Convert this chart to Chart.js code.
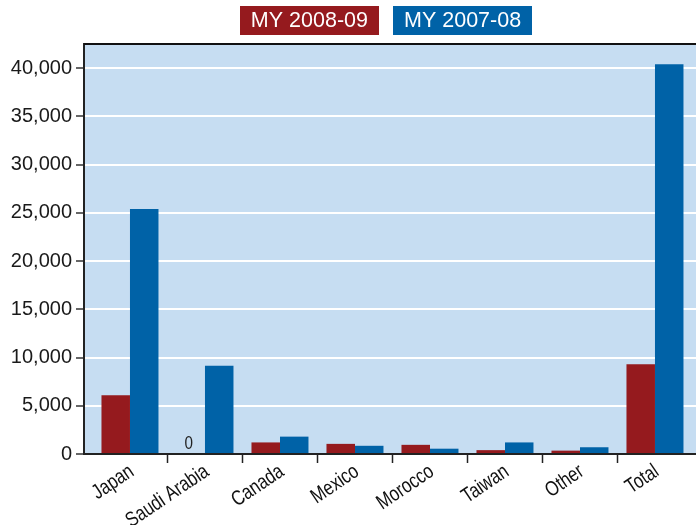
<!DOCTYPE html>
<html>
<head>
<meta charset="utf-8">
<script src="https://cdn.jsdelivr.net/npm/chart.js@4.4.1/dist/chart.umd.min.js"></script>
<style>
  html, body { margin: 0; padding: 0; background: #ffffff; }
  #wrap { width: 696px; height: 525px; position: relative; }
</style>
</head>
<body>
<div id="wrap"><canvas id="c" width="696" height="525"></canvas></div>
<script>
const categories = ['Japan', 'Saudi Arabia', 'Canada', 'Mexico', 'Morocco', 'Taiwan', 'Other', 'Total'];
const seriesLabels = ['MY 2008-09', 'MY 2007-08'];
const my200809 = [6100, 0, 1200, 1050, 950, 400, 350, 9300];
const my200708 = [25400, 9150, 1800, 850, 550, 1200, 700, 40400];
const yTickStep = 5000;
const yMax = 42500;

const RED = '#951a1e';
const BLUE = '#0062a7';
const PLOT_BG = '#c6ddf2';

const toPoints = arr => arr.map((v, i) => ({ x: i, y: v }));

const plotBg = {
  id: 'plotBg',
  beforeDraw(chart) {
    const { ctx, chartArea: a } = chart;
    ctx.save();
    ctx.fillStyle = PLOT_BG;
    ctx.fillRect(a.left, a.top, a.right - a.left, a.bottom - a.top);
    ctx.restore();
  },
  afterDraw(chart) {
    const { ctx, chartArea: a } = chart;
    ctx.save();
    // top frame line
    ctx.strokeStyle = '#111';
    ctx.lineWidth = 2;
    ctx.beginPath();
    ctx.moveTo(a.left, a.top);
    ctx.lineTo(a.right, a.top);
    ctx.stroke();

    // condensed category labels (rotated)
    const xs = chart.scales.x;
    const ang = 34 * Math.PI / 180;
    ctx.fillStyle = '#111';
    ctx.font = '21px "Liberation Sans", Arial, sans-serif';
    ctx.textAlign = 'right';
    ctx.textBaseline = 'top';
    categories.forEach((lab, i) => {
      const px = xs.getPixelForValue(i) - 4;
      const py = xs.top + 7;
      ctx.save();
      ctx.translate(px, py);
      ctx.rotate(-ang);
      ctx.scale(0.79, 1);
      ctx.fillText(lab, 0, 0);
      ctx.restore();
    });

    // zero-value label
    const meta = chart.getDatasetMeta(0);
    ctx.font = '19px "Liberation Sans", Arial, sans-serif';
    ctx.fillStyle = '#222';
    ctx.textAlign = 'center';
    ctx.textBaseline = 'bottom';
    chart.data.datasets[0].data.forEach((p, i) => {
      if (p.y === 0) {
        const el = meta.data[i];
        ctx.save();
        ctx.translate(el.x - 2, el.y - 1);
        ctx.scale(0.8, 1);
        ctx.fillText('0', 0, 0);
        ctx.restore();
      }
    });

    // legend
    ctx.font = '21.5px "Liberation Sans", Arial, sans-serif';
    const pad = 11, gap = 14, h = 29, top = 6;
    const items = chart.data.datasets.map(ds => ({ text: ds.label, color: ds.backgroundColor, w: ctx.measureText(ds.label).width + pad * 2 }));
    const total = items.reduce((s, it) => s + it.w, 0) + gap * (items.length - 1);
    let x = (a.left + a.right) / 2 - 4 - total / 2;
    ctx.textAlign = 'left';
    ctx.textBaseline = 'middle';
    items.forEach(it => {
      ctx.fillStyle = it.color;
      ctx.fillRect(Math.round(x), top, Math.round(it.w), h);
      ctx.fillStyle = '#ffffff';
      ctx.fillText(it.text, x + pad, top + h / 2 + 1);
      x += it.w + gap;
    });
    ctx.restore();
  }
};

new Chart(document.getElementById('c'), {
  type: 'bar',
  data: {
    datasets: [
      { label: seriesLabels[0], data: toPoints(my200809), backgroundColor: RED, borderWidth: 0 },
      { label: seriesLabels[1], data: toPoints(my200708), backgroundColor: BLUE, borderWidth: 0 }
    ]
  },
  options: {
    responsive: false,
    animation: false,
    devicePixelRatio: 1,
    layout: { padding: { top: 44, left: 0, right: 0, bottom: 0 } },
    datasets: { bar: { categoryPercentage: 0.76, barPercentage: 1.0 } },
    plugins: { legend: { display: false }, tooltip: { enabled: false } },
    scales: {
      x: {
        type: 'linear',
        offset: false,
        min: -0.613,
        max: 7.547,
        afterBuildTicks(scale) { scale.ticks = categories.map((c, i) => ({ value: i })); },
        afterFit(scale) { scale.height = 71; },
        grid: {
          offset: true,
          drawOnChartArea: false,
          tickLength: 9,
          tickWidth: 1.5,
          tickColor: ctx => (ctx.type === 'tick' && ctx.index > 0) ? '#222' : 'rgba(0,0,0,0)'
        },
        border: { display: true, color: '#222', width: 2 },
        ticks: { display: false, autoSkip: false }
      },
      y: {
        min: 0,
        max: yMax,
        afterBuildTicks(scale) {
          const t = [];
          for (let v = 0; v <= yMax; v += yTickStep) t.push({ value: v });
          scale.ticks = t;
        },
        afterFit(scale) { scale.width = 84; },
        grid: {
          color: '#ffffff',
          lineWidth: 2,
          tickColor: '#333',
          tickWidth: 1.5,
          tickLength: 8
        },
        border: { display: true, color: '#222', width: 2 },
        ticks: {
          padding: 4,
          color: '#1a1a1a',
          font: { family: '"Liberation Sans", Arial, sans-serif', size: 20 },
          callback: v => v.toLocaleString('en-US')
        }
      }
    }
  },
  plugins: [plotBg]
});
</script>
</body>
</html>
